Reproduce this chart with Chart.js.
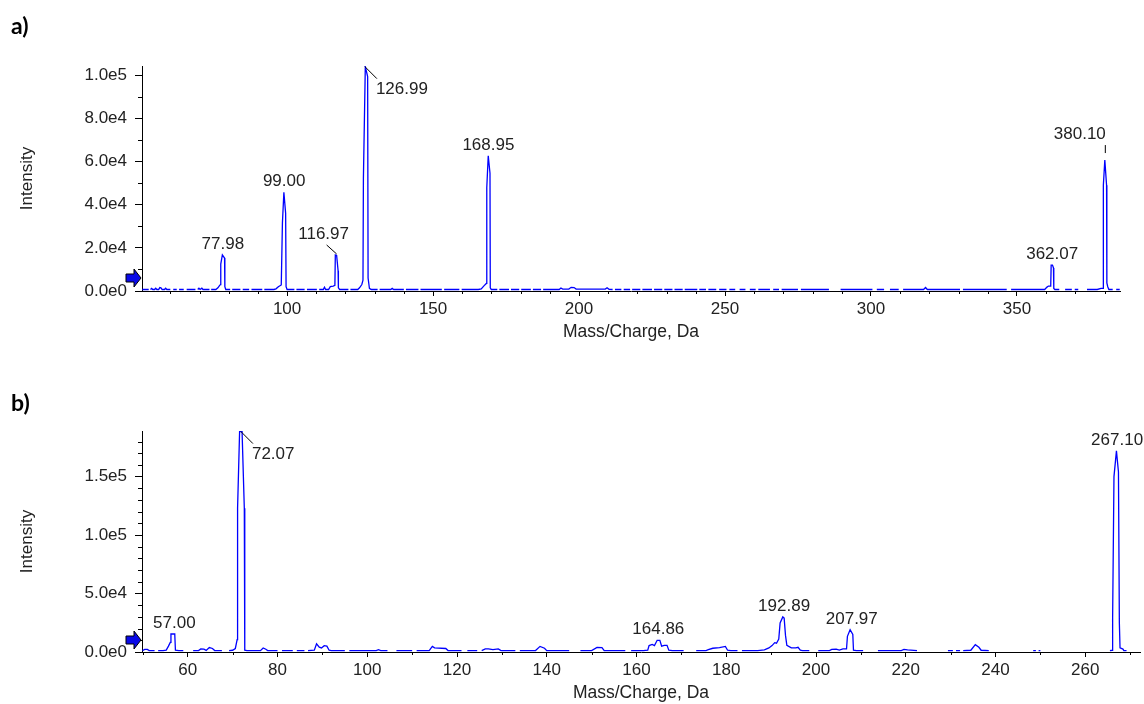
<!DOCTYPE html>
<html><head><meta charset="utf-8">
<script src="https://cdn.jsdelivr.net/npm/chart.js@4.4.1/dist/chart.umd.min.js"></script>
<style>
html,body{margin:0;padding:0;background:#fff;}
#wrap{position:relative;width:1144px;height:704px;overflow:hidden;background:#fff;}
canvas{position:absolute;left:0;}
#ca{top:0;} #cb{top:352px;}
.panel{position:absolute;font-family:Lato,"Liberation Sans",sans-serif;font-weight:bold;font-size:23px;line-height:26px;color:#000;}
</style></head><body>
<div id="wrap">
<canvas id="ca" width="1144" height="352"></canvas>
<canvas id="cb" width="1144" height="352"></canvas>
<div class="panel" style="left:11px;top:12px">a)</div>
<div class="panel" style="left:11px;top:389px">b)</div>
</div>
<script>
// ---------- DATA ----------
const xTicksA = [100,150,200,250,300,350];
const yTicksA = [0,20000,40000,60000,80000,100000];
const xTicksB = [60,80,100,120,140,160,180,200,220,240,260];
const yTicksB = [0,50000,100000,150000];

const peakMzA  = [77.98, 99.00, 116.97, 126.99, 168.95, 362.07, 380.10];
const peakIntA = [16700, 45800, 16700, 104000, 62700, 12000, 60700];
const peakMzB  = [57.00, 72.07, 164.86, 192.89, 207.97, 267.10];
const peakIntB = [15400, 188500, 10000, 30000, 19000, 172000];

const arrowLevelA = 6000;
const arrowLevelB = 10500;

// [m/z, intensity]; null = no signal recorded (gap)
const spectrumA = [
[50.4,700],[52.6,700],[52.9,null],
[53.2,700],[53.6,1200],[54.0,700],[54.6,700],[55.0,1300],[55.4,700],[56.0,700],[56.4,1600],[56.8,1500],[57.2,700],[58.0,700],[58.4,1300],[58.8,700],[60.0,700],[60.4,null],
[61.0,700],[62.2,700],[62.5,null],
[63.0,700],[64.6,700],[65.0,null],
[65.6,700],[68.6,700],[69.0,null],
[69.4,700],[69.8,1300],[70.2,700],[70.8,1300],[71.2,700],[73.4,700],[73.7,null],
[74.0,700],[75.6,700],[76.3,1500],[76.9,2600],[77.18,3000],[77.28,12500],[77.83,16700],[78.58,15300],[78.68,2000],[79.0,700],[80.5,700],[80.8,null],
[81.2,700],[84.0,700],[84.3,null],
[84.8,700],[87.0,700],[87.4,null],
[87.8,700],[91.5,700],[91.8,null],
[92.2,700],[95.5,700],[96.2,1000],[97.0,2000],[98.0,2800],[98.4,31500],[98.9,45800],[99.5,36000],[99.65,2000],[100.0,700],[102.5,700],[102.8,null],
[103.2,700],[106.0,700],[106.3,null],
[106.8,700],[110.2,700],[110.6,null],
[111.0,700],[112.4,700],[112.8,1800],[113.2,700],[114.2,700],[114.8,2000],[115.8,2300],[116.37,2600],[116.52,16700],[116.97,16500],[117.47,9400],[117.57,1500],[118.0,700],[121.0,700],[121.3,null],
[121.7,700],[124.2,700],[124.8,1500],[125.6,3000],[125.99,5000],[126.14,52000],[126.79,104000],[127.59,99400],[127.74,6000],[128.2,1200],[128.8,700],[131.0,700],[131.3,null],
[131.7,700],[135.5,700],[136.0,1200],[136.5,700],[140.0,700],[140.3,null],
[140.7,700],[145.0,700],[145.3,null],
[145.7,700],[153.0,700],[153.3,null],
[153.8,700],[159.0,700],[159.3,null],
[159.8,700],[165.5,700],[166.5,1000],[167.5,2500],[168.25,3500],[168.4,47900],[168.9,62700],[169.5,54600],[169.6,1500],[169.95,700],[172.0,700],[172.3,null],
[172.7,700],[176.0,700],[176.3,null],[176.7,700],[179.5,700],[179.8,null],[180.2,700],[183.5,700],[183.8,null],[184.2,700],[187.0,700],[187.3,null],
[187.7,700],[193.2,700],[193.8,1400],[194.4,900],[196.5,900],[197.3,1700],[198.3,1600],[199.0,900],[205.0,900],[209.0,900],[209.6,1500],[210.3,800],[211.5,700],[211.8,null],
[212.3,700],[214.5,700],[214.8,null],[215.3,700],[217.5,700],[217.8,null],[218.2,700],[221.0,700],[221.3,null],[221.7,700],[225.0,700],[225.3,null],
[225.7,700],[228.5,700],[228.8,null],[229.2,700],[232.0,700],[232.3,null],[232.7,700],[235.5,700],[235.8,null],[236.2,700],[240.5,700],[240.8,null],
[241.2,700],[243.5,700],[243.8,null],[244.3,700],[247.0,700],[247.5,null],[248.0,700],[250.5,700],[251.0,null],[251.5,700],[253.5,700],[254.0,null],
[255.0,700],[257.0,700],[257.5,null],[258.5,700],[260.5,700],[261.0,null],
[261.4,700],[265.4,700],[265.8,null],[266.5,700],[268.5,700],[268.9,null],[269.4,700],[275.0,700],[275.4,null],[276.0,700],[285.6,700],[286.0,null],
[289.6,700],[300.5,700],[301.0,null],[302.0,700],[304.5,700],[305.0,null],[306.5,700],[309.5,700],[310.0,null],
[311.0,700],[318.0,700],[318.7,1600],[319.3,700],[330.5,700],[331.0,null],[331.5,700],[346.5,700],[347.0,null],
[348.0,700],[359.5,700],[360.3,1800],[360.8,2300],[361.57,2300],[361.72,12000],[362.17,12000],[362.52,10700],[362.62,1200],[363.0,700],[364.5,700],[365.0,null],
[366.5,700],[368.8,700],[369.2,null],[369.8,700],[371.0,700],[371.3,null],
[374.0,700],[377.5,700],[378.8,1200],[379.5,1200],[379.6,49000],[380.1,60700],[380.7,49000],[380.8,3700],[381.1,2000],[381.5,700],[382.8,700],[383.3,null],
[384.0,700],[385.2,700]
];

const spectrumB = [
[49.9,1200],[50.4,2200],[51.0,2200],[51.4,1200],[52.6,1200],[53.0,null],
[53.4,1200],[54.5,1200],[55.2,1600],[55.7,5000],[56.1,8200],[56.25,15400],[57.1,15400],[57.25,1500],[58.0,1200],[59.0,1200],[59.4,null],
[61.2,1200],[62.4,1200],[62.9,2600],[63.6,2400],[64.1,1400],[64.8,3800],[65.5,3000],[66.0,1200],[67.6,1200],[68.0,null],
[69.2,1200],[70.0,1500],[70.6,3000],[71.0,10500],[71.1,123000],[71.55,188500],[72.1,188500],[72.6,123000],[72.7,1500],[73.2,1200],
[76.2,1200],[76.8,3400],[77.4,2400],[77.8,1200],[80.0,1200],[80.4,null],
[81.0,1200],[83.4,1200],[83.8,null],[84.3,1200],[86.0,1200],[86.4,null],
[86.8,1200],[88.2,1500],[88.7,7000],[89.3,4200],[89.8,3500],[90.4,5400],[91.0,5000],[91.5,1500],[92.0,1200],[95.0,1200],[95.4,null],
[96.0,1200],[102.0,1200],[102.5,2000],[103.0,1200],[104.5,1200],[105.0,null],
[106.5,1200],[110.0,1200],[110.4,null],
[111.0,1200],[113.8,1200],[114.5,4800],[115.0,3500],[117.5,3000],[118.0,1200],[121.0,1200],[121.4,null],
[122.3,1200],[124.5,1200],[125.0,null],
[125.5,1200],[126.3,2600],[127.0,2600],[128.0,2000],[129.2,2600],[129.8,1200],[133.0,1200],[133.4,null],
[134.0,1200],[137.5,1200],[138.5,4800],[139.5,3200],[140.0,1200],[145.0,1200],[145.5,null],
[147.5,1200],[150.0,1200],[151.2,4000],[152.3,3800],[152.8,1200],[157.5,1200],[158.0,null],
[158.8,1200],[161.5,1200],[162.5,1500],[162.8,5500],[163.5,6500],[164.0,5500],[164.6,10000],[165.2,10000],[165.6,5000],[166.2,5700],[166.8,5700],[167.2,1500],[168.0,1200],[170.5,1200],[171.0,null],
[173.3,1200],[175.5,1200],[176.0,2000],[177.0,3200],[178.5,3800],[179.8,4800],[180.3,1500],[181.0,1200],[182.5,1200],[183.0,null],
[183.5,1200],[187.0,1200],[188.5,1800],[189.5,3500],[190.2,5500],[190.8,8000],[191.2,7500],[191.7,11000],[192.0,24800],[192.6,30000],[192.9,29000],[193.2,14200],[193.5,5700],[194.5,3500],[195.5,3500],[196.0,4000],[196.5,1500],[197.0,1200],[198.5,1200],[199.0,null],
[200.5,1200],[203.0,1200],[203.5,2200],[204.5,2400],[205.2,1600],[206.0,2600],[206.8,2600],[207.0,13400],[207.6,19000],[208.2,15000],[208.35,1500],[209.0,1200],[210.5,1200],[211.0,null],
[213.8,1200],[219.0,1200],[219.6,2200],[220.4,1800],[222.5,1200],[223.0,null],
[229.4,1200],[230.5,1200],[230.8,null],[231.2,1200],[232.1,1200],[232.4,null],
[232.8,1200],[234.5,1500],[235.5,6300],[236.3,4000],[236.8,1500],[238.5,1200],[238.8,null],
[248.4,1200],[249.0,1200],[249.3,null],[249.6,1200],[250.0,1200],[250.3,null],
[265.5,1200],[266.0,1500],[266.1,29000],[266.4,150000],[266.95,172000],[267.4,154000],[267.6,24800],[267.75,3500],[268.4,2500],[268.6,1200],[269.2,1200]
];

// ---------- STYLE / PLUGINS ----------
const FONT = '"Liberation Sans", Arial, sans-serif';
const TXT = '#222';
const modesA = ['above','above','leftLeader','rightLeader','above','above','leftTick'];
const modesB = ['above','rightLeader','above','above','above','above'];

const peakLabels = {
  id:'peakLabels',
  afterDatasetsDraw(chart, args, o){
    const {ctx, scales:{x,y}} = chart;
    ctx.save();
    ctx.font = '17px ' + FONT;
    ctx.fillStyle = TXT; ctx.strokeStyle = '#000'; ctx.lineWidth = 1;
    ctx.textBaseline = 'alphabetic';
    o.mz.forEach((m,i)=>{
      const px = x.getPixelForValue(m), py = y.getPixelForValue(o.h[i]);
      const t = m.toFixed(2), mode = o.modes[i];
      if (mode === 'above'){
        ctx.textAlign = 'center'; ctx.fillText(t, px, py-6);
      } else if (mode === 'leftLeader'){
        ctx.beginPath(); ctx.moveTo(px-10, py-10); ctx.lineTo(px, py-1); ctx.stroke();
        ctx.textAlign = 'center'; ctx.fillText(t, px-13, py-16);
      } else if (mode === 'rightLeader'){
        ctx.beginPath(); ctx.moveTo(px-1, py); ctx.lineTo(px+11, py+12); ctx.stroke();
        ctx.textAlign = 'left'; ctx.fillText(t, px+10, py+27);
      } else if (mode === 'leftTick'){
        ctx.beginPath(); ctx.moveTo(px+0.5, py-15); ctx.lineTo(px+0.5, py-7); ctx.stroke();
        ctx.textAlign = 'right'; ctx.fillText(t, px+1, py-21);
      }
    });
    ctx.restore();
  }
};

const extras = {
  id:'extras',
  afterDraw(chart, args, o){
    const {ctx, chartArea:{left,bottom}, scales:{x,y}} = chart;
    ctx.save();
    ctx.strokeStyle = '#000'; ctx.lineWidth = 1;
    ctx.beginPath();
    for (let v = Math.ceil(x.min/o.xStep)*o.xStep; v <= x.max; v += o.xStep){
      if (o.xMajor.includes(v)) continue;
      const px = Math.round(x.getPixelForValue(v))+0.5;
      ctx.moveTo(px, bottom); ctx.lineTo(px, bottom+3);
    }
    for (let v = 0; v <= y.max; v += o.yStep){
      if (o.yMajor.includes(v)) continue;
      const py = Math.round(y.getPixelForValue(v))+0.5;
      ctx.moveTo(left-4, py); ctx.lineTo(left, py);
    }
    ctx.stroke();
    // precursor arrow marker
    const Y = Math.round(y.getPixelForValue(o.arrow));
    const L = left;
    ctx.beginPath();
    ctx.moveTo(L-16, Y-4); ctx.lineTo(L-8, Y-4); ctx.lineTo(L-8, Y-9); ctx.lineTo(L-1, Y);
    ctx.lineTo(L-8, Y+9); ctx.lineTo(L-8, Y+4); ctx.lineTo(L-16, Y+4); ctx.closePath();
    ctx.fillStyle = '#0a0ae8'; ctx.fill(); ctx.stroke();
    ctx.restore();
  }
};

function makeChart(id, spec, cfg){
  return new Chart(document.getElementById(id), {
    type:'line',
    data:{ datasets:[{
      data: spec.map(([x,y])=>({x,y})),
      borderColor:'#0000ff', borderWidth:1.3, pointRadius:0, tension:0, fill:false, spanGaps:false
    }]},
    options:{
      responsive:false, animation:false, devicePixelRatio:1,
      layout:{ padding:{ top:cfg.padTop, right:cfg.padRight, left:0, bottom:0 } },
      plugins:{
        legend:{display:false}, tooltip:{enabled:false},
        peakLabels:{ mz:cfg.peakMz, h:cfg.peakInt, modes:cfg.modes },
        extras:{ xStep:10, xMajor:cfg.xTicks, yStep:10000, yMajor:cfg.yTicks, arrow:cfg.arrow }
      },
      scales:{
        x:{
          type:'linear', min:cfg.xMin, max:cfg.xMax,
          afterBuildTicks:s=>{ s.ticks = cfg.xTicks.map(v=>({value:v})); },
          afterFit:s=>{ s.height = cfg.xH; },
          grid:{ display:true, drawOnChartArea:false, drawTicks:true, tickLength:5, tickColor:'#000', color:'#000' },
          border:{ display:true, color:'#000', width:1 },
          ticks:{ color:TXT, font:{family:FONT, size:17}, padding:3, maxRotation:0, autoSkip:false, callback:v=>String(v) },
          title:{ display:true, text:'Mass/Charge, Da', color:TXT, font:{family:FONT, size:17.5}, padding:{top:0, bottom:cfg.xTitlePad} }
        },
        y:{
          type:'linear', min:0, max:cfg.yMax,
          afterBuildTicks:s=>{ s.ticks = cfg.yTicks.map(v=>({value:v})); },
          afterFit:s=>{ s.width = 142; },
          grid:{ display:true, drawOnChartArea:false, drawTicks:true, tickLength:7, tickColor:'#000', color:'#000' },
          border:{ display:true, color:'#000', width:1 },
          ticks:{ color:TXT, font:{family:FONT, size:17}, padding:8, autoSkip:false, callback:v=>v.toExponential(1).replace('+','') },
          title:{ display:true, text:'Intensity', color:TXT, font:{family:FONT, size:17}, padding:{top:17, bottom:0} }
        }
      }
    },
    plugins:[peakLabels, extras]
  });
}

makeChart('ca', spectrumA, { padTop:66, padRight:24, xMin:50.3, xMax:385.3, yMax:104300, xH:61, xTitlePad:9,
  xTicks:xTicksA, yTicks:yTicksA, peakMz:peakMzA, peakInt:peakIntA, modes:modesA, arrow:arrowLevelA });
makeChart('cb', spectrumB, { padTop:79, padRight:4, xMin:49.8, xMax:272.2, yMax:189000, xH:52, xTitlePad:0,
  xTicks:xTicksB, yTicks:yTicksB, peakMz:peakMzB, peakInt:peakIntB, modes:modesB, arrow:arrowLevelB });
</script>
</body></html>
